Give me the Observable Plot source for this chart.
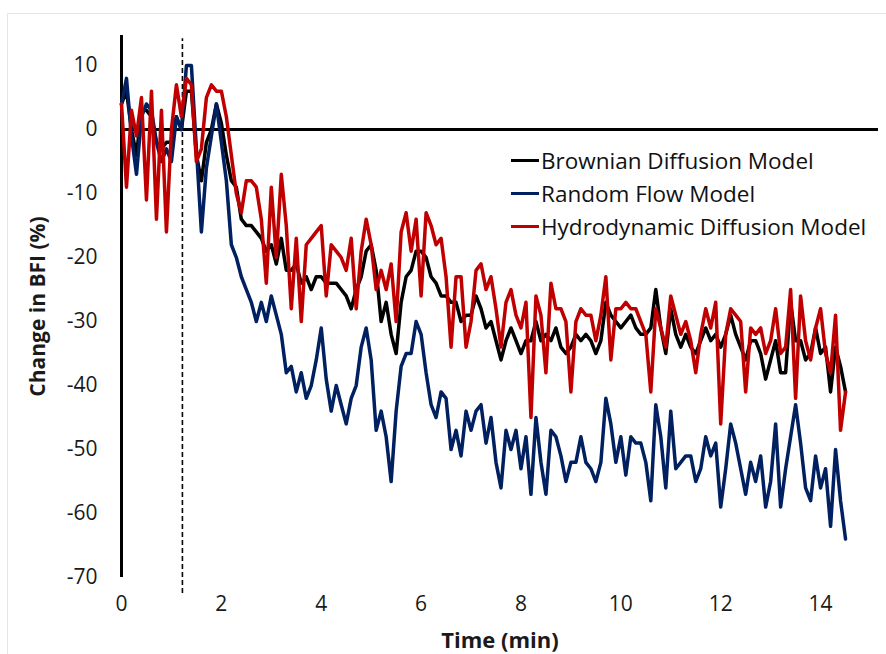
<!DOCTYPE html>
<html>
<head>
<meta charset="utf-8">
<script src="https://cdn.jsdelivr.net/npm/d3@7"></script>
<script src="https://cdn.jsdelivr.net/npm/@observablehq/plot@0.6"></script>
<style>
  html, body { margin: 0; padding: 0; background: #fff; overflow: hidden; }
  #wrap { position: relative; width: 886px; height: 654px; overflow: hidden; }
  #border { position: absolute; left: 7px; top: 13px; width: 920px; height: 720px; border: 1px solid #e6e6e6; pointer-events: none; }
  #legend { position: absolute; left: 511px; top: 144px; font-family: "Open Sans", sans-serif; font-size: 22.5px; color: #111; }
  #legend .row { display: flex; align-items: center; height: 33px; white-space: nowrap; }
  #legend .sw { width: 28px; height: 3.5px; margin-right: 2px; }
  svg { position: absolute; left: 0; top: 0; }
</style>
</head>
<body>
<div id="wrap">
  <div id="border"></div>
  <div id="chart"></div>
  <div id="legend"></div>
</div>
<script>
// Sampling interval of the series (minutes)
const stepMin = 0.1;

const seriesNames = ["Brownian Diffusion Model", "Random Flow Model", "Hydrodynamic Diffusion Model"];
const seriesColors = ["#000000", "#002060", "#C00000"];

const brownian = [
  4, 6, 0, -4, 3, 3, 2, -2, -3, -2,
  -2, 2, 0, 6, 6, -4, -8, -2, 0, 4,
  1, -4, -8, -9, -14, -15, -15, -16, -17, -19,
  -18, -21, -17, -22, -22, -21, -24, -23, -25, -23,
  -23, -24, -24, -24, -25, -26, -28, -25, -23, -19,
  -18, -22, -30, -27, -32, -35, -27, -23, -22, -19,
  -19, -20, -23, -24, -26, -26, -27, -27, -30, -29,
  -29, -26, -28, -31, -30, -33, -36, -33, -31, -33,
  -35, -33, -33, -30, -33, -32, -33, -31, -34, -35,
  -34, -32, -33, -32, -33, -35, -33, -27, -29, -30,
  -31, -30, -29, -31, -32, -32, -31, -25, -31, -35,
  -28, -32, -34, -32, -34, -35, -33, -31, -33, -32,
  -34, -32, -29, -32, -34, -36, -33, -33, -35, -39,
  -36, -33, -38, -38, -27, -33, -33, -36, -35, -31,
  -35, -34, -41, -34, -37, -41
];

const randomFlow = [
  4, 8, -1, -7, 2, 4, 3, -2, -5, -3,
  -5, 2, 0, 10, 10, -3, -16, -6, -1, 4,
  -2, -8, -18, -20, -23, -25, -27, -30, -27, -30,
  -26, -29, -32, -38, -37, -41, -38, -42, -40, -36,
  -31, -39, -44, -40, -43, -46, -42, -40, -34, -31,
  -36, -47, -44, -48, -55, -44, -37, -35, -35, -30,
  -32, -38, -43, -45, -41, -42, -50, -47, -51, -44,
  -47, -44, -43, -49, -45, -52, -56, -47, -50, -47,
  -53, -48, -57, -45, -52, -57, -47, -48, -51, -55,
  -52, -52, -48, -52, -53, -55, -52, -42, -46, -52,
  -48, -54, -48, -49, -49, -52, -58, -43, -48, -56,
  -44, -53, -52, -51, -51, -55, -53, -48, -51, -49,
  -59, -53, -46, -49, -53, -57, -52, -55, -51, -59,
  -55, -46, -59, -53, -48, -43, -49, -56, -58, -51,
  -56, -53, -62, -50, -58, -64
];

const hydrodynamic = [
  4, -9, 3, -1, 5, -11, 6, -14, 3, -16,
  0, 7, 2, 8, 7, -5, -3, 5, 7, 6,
  6, 2, -4, -10, -13, -8, -8, -9, -14, -24,
  -9, -20, -7, -15, -28, -17, -30, -18, -17, -16,
  -15, -26, -18, -19, -20, -22, -17, -28, -19, -14,
  -18, -25, -22, -25, -21, -30, -16, -13, -19, -14,
  -26, -13, -15, -18, -17, -23, -34, -23, -23, -34,
  -30, -22, -21, -25, -23, -28, -34, -27, -25, -29,
  -31, -27, -45, -26, -29, -38, -24, -28, -28, -30,
  -41, -30, -28, -29, -29, -33, -29, -23, -36, -28,
  -28, -27, -28, -28, -30, -32, -41, -28, -31, -34,
  -26, -29, -32, -30, -33, -38, -32, -28, -31, -27,
  -46, -32, -28, -29, -30, -41, -31, -32, -31, -35,
  -33, -28, -35, -34, -25, -42, -26, -33, -36, -31,
  -28, -35, -38, -29, -47, -41
];

const xTicks = [0, 2, 4, 6, 8, 10, 12, 14];
const yTicks = [-70, -60, -50, -40, -30, -20, -10, 0, 10];
const treatmentTime = [1.22];
const xTitle = "Time (min)";
const yTitle = "Change in BFI (%)";

const allSeries = [brownian, randomFlow, hydrodynamic];
const rows = allSeries.flatMap((vals, s) =>
  vals.map((v, i) => ({ t: +(i * stepMin).toFixed(2), v, series: seriesNames[s] }))
);

const font = "Open Sans, sans-serif";

const chart = Plot.plot({
  width: 886,
  height: 654,
  marginLeft: 121,
  marginRight: 8,
  marginTop: 35,
  marginBottom: 77,
  style: { fontFamily: font, background: "transparent", overflow: "visible" },
  x: { domain: [0, 15.16] },
  y: { domain: [-70, 14.7] },
  marks: [
    Plot.axisX({ ticks: xTicks, tickSize: 0, tickPadding: 19, fontSize: 21, label: null, tickFormat: d => String(d), fill: "#1a1a1a" }),
    Plot.axisY({ ticks: yTicks, tickSize: 0, tickPadding: 24, fontSize: 21, label: null, tickFormat: d => String(d), fill: "#1a1a1a" }),
    Plot.ruleX(treatmentTime, { y1: -72.5, y2: 14.2, stroke: "#000", strokeWidth: 1.6, strokeDasharray: "5,3" }),
    Plot.ruleY([0], { x1: 0, x2: 15.16, stroke: "#000", strokeWidth: 3 }),
    Plot.ruleX([0], { y1: -70, y2: 14.7, stroke: "#000", strokeWidth: 3 }),
    ...seriesNames.map((name, s) =>
      Plot.line(rows.filter(d => d.series === name), {
        x: "t", y: "v", stroke: seriesColors[s], strokeWidth: 3.5, strokeLinejoin: "round", curve: "linear"
      })
    ),
    Plot.text([xTitle], { frameAnchor: "bottom", textAnchor: "middle", dy: 63, fontSize: 22, fontWeight: "bold", fill: "#1a1a1a", lineAnchor: "middle" }),
    Plot.text([yTitle], { frameAnchor: "left", textAnchor: "middle", dx: -83, rotate: -90, fontSize: 21, fontWeight: "bold", fill: "#1a1a1a", lineAnchor: "middle" })
  ]
});
document.getElementById("chart").appendChild(chart);

const legend = document.getElementById("legend");
seriesNames.forEach((name, s) => {
  const row = document.createElement("div");
  row.className = "row";
  const sw = document.createElement("span");
  sw.className = "sw";
  sw.style.background = seriesColors[s];
  const label = document.createElement("span");
  label.textContent = name;
  row.appendChild(sw);
  row.appendChild(label);
  legend.appendChild(row);
});
</script>
</body>
</html>
